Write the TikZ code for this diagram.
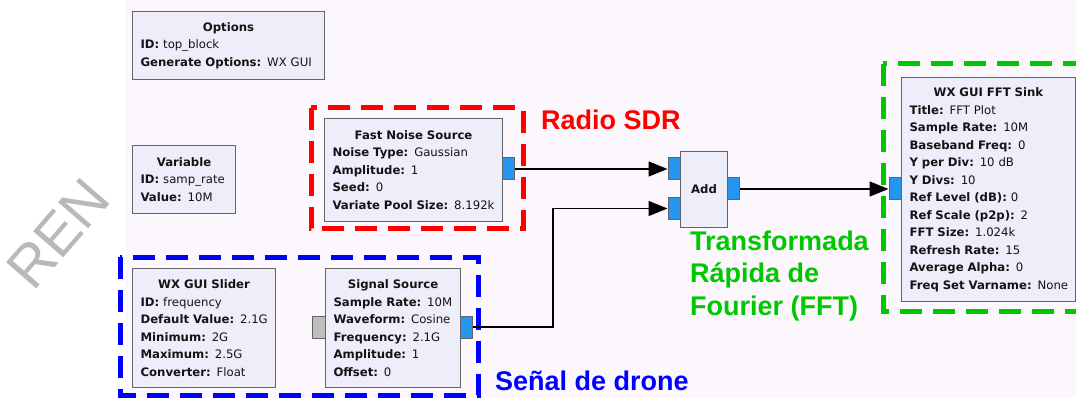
\documentclass[tikz,border=0pt]{standalone}
\usepackage{fontspec}
\usetikzlibrary{arrows.meta}
\newfontfamily\grcfont{DejaVu Sans}
\newfontfamily\capfont{Liberation Sans}
\definecolor{bgpink}{RGB}{252,247,252}
\definecolor{boxfill}{RGB}{238,238,250}
\definecolor{boxline}{RGB}{100,100,100}
\definecolor{portblue}{RGB}{36,150,240}
\definecolor{portgray}{RGB}{190,190,190}
\definecolor{sdrred}{RGB}{255,0,0}
\definecolor{fftgreen}{RGB}{0,200,0}
\definecolor{droneblue}{RGB}{0,0,255}
\definecolor{wmgray}{RGB}{185,185,185}
\newcommand\kv[2]{\mbox{\textbf{#1:} #2}}
\newcommand\ttl[1]{\null\hfill\textbf{#1}\hfill\null}
\begin{document}
\begin{tikzpicture}[x=1pt,y=-1pt,
  blk/.style={draw=boxline, fill=boxfill, line width=1.1pt, anchor=north west,
    inner xsep=8pt, inner ysep=0pt, align=left,
    font=\grcfont\fontsize{11.7}{17.5}\selectfont, text=black!92},
  port/.style={draw=boxline, fill=portblue, line width=1pt, minimum width=12pt,
    minimum height=22pt, inner sep=0pt},
  wire/.style={line width=1.3pt, -{Triangle[length=19pt,width=15pt]}},
  grp/.style={line width=5pt, dash pattern=on 22pt off 11pt},
  captxt/.style={font=\capfont\bfseries\fontsize{27}{27}\selectfont, anchor=base west, inner sep=0pt}]
\useasboundingbox (0,0) rectangle (1076,398);
\clip (0,0) rectangle (1076,398);
\fill[white] (0,0) rectangle (1076,398);
\node[rotate=49, anchor=base west, inner sep=0pt,
  font=\capfont\fontsize{58}{58}\selectfont, text=wmgray] (wm) at (33,293) {REN};
\fill[bgpink] (125,0) rectangle (1076,398);

% groups
\draw[grp, sdrred] (311,108) rectangle (523,229);
\draw[grp, fftgreen] (883,64) rectangle (1100,311);
\draw[grp, droneblue] (120,257) rectangle (478,395);

% blocks
\node[blk, minimum width=192pt, minimum height=68pt, text width=176pt] (opt) at (132,11)
  {\ttl{Options}\\ \kv{ID}{top\_block}\\ \kv{Generate Options}{WX GUI}};
\node[blk, minimum width=103pt, minimum height=68pt, text width=87pt] (var) at (132,145)
  {\ttl{Variable}\\ \kv{ID}{samp\_rate}\\ \kv{Value}{10M}};
\node[blk, minimum width=178pt, minimum height=103pt, text width=162pt] (noise) at (324,118)
  {\ttl{Fast Noise Source}\\ \kv{Noise Type}{Gaussian}\\ \kv{Amplitude}{1}\\ \kv{Seed}{0}\\ \kv{Variate Pool Size}{8.192k}};
\node[blk, minimum width=47pt, minimum height=76pt, text width=31pt, align=center] (add) at (680,151)
  {\textbf{Add}};
\node[blk, minimum width=174pt, minimum height=224pt, text width=158pt] (fft) at (901,77)
  {\ttl{WX GUI FFT Sink}\\ \kv{Title}{FFT Plot}\\ \kv{Sample Rate}{10M}\\ \kv{Baseband Freq}{0}\\
   \kv{Y per Div}{10 dB}\\ \kv{Y Divs}{10}\\ \kv{Ref Level (dB)}{0}\\ \kv{Ref Scale (p2p)}{2}\\
   \kv{FFT Size}{1.024k}\\ \kv{Refresh Rate}{15}\\ \kv{Average Alpha}{0}\\ \kv{Freq Set Varname}{None}};
\node[blk, minimum width=143pt, minimum height=119pt, text width=127pt] (slider) at (132,268)
  {\ttl{WX GUI Slider}\\ \kv{ID}{frequency}\\ \kv{Default Value}{2.1G}\\ \kv{Minimum}{2G}\\
   \kv{Maximum}{2.5G}\\ \kv{Converter}{Float}};
\node[blk, minimum width=135pt, minimum height=119pt, text width=119pt] (sig) at (325,268)
  {\ttl{Signal Source}\\ \kv{Sample Rate}{10M}\\ \kv{Waveform}{Cosine}\\ \kv{Frequency}{2.1G}\\
   \kv{Amplitude}{1}\\ \kv{Offset}{0}};

% ports
\node[port] (nout) at (508,169) {};
\node[port] (ain1) at (674,169) {};
\node[port] (ain2) at (674,208.5) {};
\node[port] (aout) at (733,189) {};
\node[port] (fin) at (895,189) {};
\node[port, fill=portgray, minimum width=13pt] (sin) at (318.5,327) {};
\node[port] (sout) at (466,327) {};

% wires
\coordinate (bend) at (553,208.5);
\draw[wire] (nout.east) -- (ain1.west);
\draw[wire] (sout.east) -| (bend) -- (ain2.west);
\draw[wire] (aout.east) -- (fin.west);

% captions
\node[captxt, text=sdrred] (sdr) at (541,130) {Radio SDR};
\node[captxt, text=droneblue] (drone) at (495,390) {Señal de drone};
\node[captxt, text=fftgreen] (t1) at (690,250) {Transformada};
\node[captxt, text=fftgreen] (t2) at (690,282.5) {Rápida de};
\node[captxt, text=fftgreen] (t3) at (690,315) {Fourier (FFT)};
\end{tikzpicture}
\end{document}
